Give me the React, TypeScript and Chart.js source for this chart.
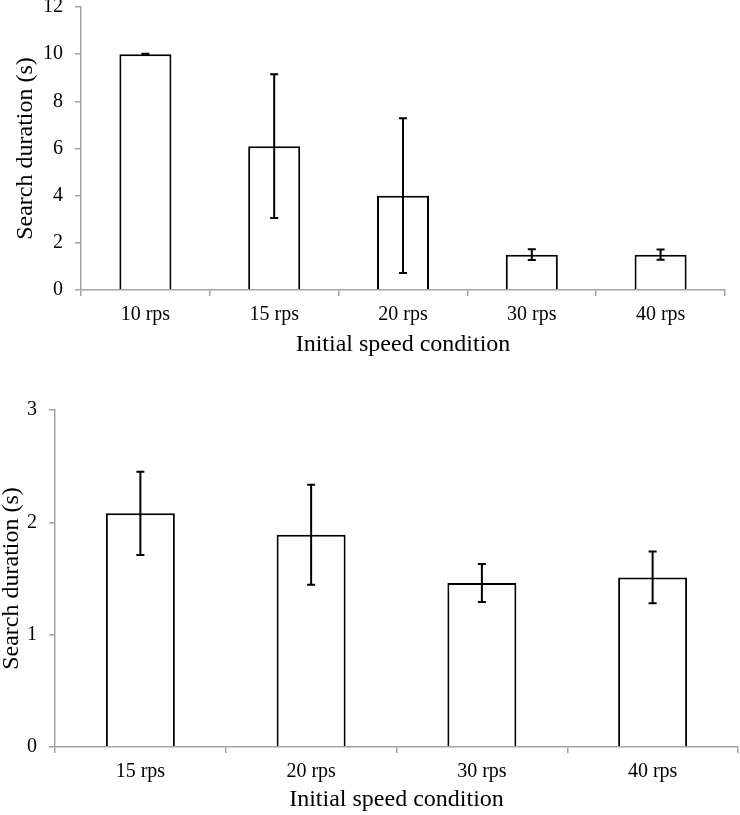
import React, { useEffect, useRef } from "react";
import { Chart, registerables } from "chart.js";

Chart.register(...registerables);

const topCategories = ["10 rps", "15 rps", "20 rps", "30 rps", "40 rps"];
const topMeans = [10.0, 6.1, 4.0, 1.5, 1.5];
const topErrors = [0.02, 3.05, 3.28, 0.23, 0.22];
const topTicks = { min: 0, max: 12, step: 2 };

const bottomCategories = ["15 rps", "20 rps", "30 rps", "40 rps"];
const bottomMeans = [2.08, 1.89, 1.46, 1.51];
const bottomErrors = [0.37, 0.445, 0.17, 0.23];
const bottomTicks = { min: 0, max: 3, step: 1 };

const xTitle = "Initial speed condition";
const yTitle = "Search duration (s)";

const FONT = "'Liberation Serif', 'Times New Roman', serif";
const AXIS_GREY = "#a3a3a3";

const errorBarPlugin = {
  id: "errorBars",
  afterDatasetsDraw(chart: any) {
    const errs: number[] = chart.options.plugins.errorBars.errors;
    const means: number[] = chart.data.datasets[0].data;
    const meta = chart.getDatasetMeta(0);
    const ys = chart.scales.y;
    const ctx = chart.ctx;
    ctx.save();
    ctx.strokeStyle = "#000";
    ctx.lineWidth = 2;
    meta.data.forEach((bar: any, i: number) => {
      const x = bar.x;
      const yTop = ys.getPixelForValue(means[i] + errs[i]);
      const yBot = ys.getPixelForValue(means[i] - errs[i]);
      const cap = 4;
      ctx.beginPath();
      ctx.moveTo(x, yTop);
      ctx.lineTo(x, yBot);
      ctx.moveTo(x - cap, yTop);
      ctx.lineTo(x + cap, yTop);
      ctx.moveTo(x - cap, yBot);
      ctx.lineTo(x + cap, yBot);
      ctx.stroke();
    });
    ctx.restore();
  },
};

interface Cfg {
  labels: string[];
  means: number[];
  errors: number[];
  ticks: { min: number; max: number; step: number };
  padding: { top: number; right: number; bottom: number; left: number };
  yWidth: number;
  xHeight: number;
  yTitlePad: number;
}

function BarPanel({ cfg, top, height }: { cfg: Cfg; top: number; height: number }) {
  const ref = useRef<HTMLCanvasElement | null>(null);
  useEffect(() => {
    if (!ref.current) return;
    const chart = new Chart(ref.current, {
      type: "bar",
      data: {
        labels: cfg.labels,
        datasets: [
          {
            data: cfg.means,
            backgroundColor: "#ffffff",
            borderColor: "#000000",
            borderWidth: 2,
            barPercentage: 0.404,
            categoryPercentage: 1,
          },
        ],
      },
      options: {
        animation: false,
        responsive: false,
        maintainAspectRatio: false,
        devicePixelRatio: 1,
        layout: { padding: cfg.padding },
        plugins: {
          legend: { display: false },
          tooltip: { enabled: false },
          errorBars: { errors: cfg.errors },
        } as any,
        scales: {
          x: {
            type: "category",
            offset: true,
            grid: {
              display: true,
              offset: true,
              drawOnChartArea: false,
              drawTicks: true,
              tickLength: 6,
              color: AXIS_GREY,
              lineWidth: 1.5,
            },
            border: { display: true, color: AXIS_GREY, width: 1.5 },
            ticks: {
              color: "#000",
              font: { family: FONT, size: 20 },
              padding: 7,
              maxRotation: 0,
            },
            title: {
              display: true,
              text: xTitle,
              color: "#000",
              font: { family: FONT, size: 24, lineHeight: 1 },
              padding: { top: 0, bottom: 0 },
            },
            afterFit: (s: any) => {
              s.height = cfg.xHeight;
              s.paddingLeft = 0;
              s.paddingRight = 0;
            },
          },
          y: {
            min: cfg.ticks.min,
            max: cfg.ticks.max,
            grid: {
              display: true,
              drawOnChartArea: false,
              drawTicks: true,
              tickLength: 6,
              color: AXIS_GREY,
              lineWidth: 1.5,
            },
            border: { display: true, color: AXIS_GREY, width: 1.5 },
            ticks: {
              stepSize: cfg.ticks.step,
              color: "#000",
              font: { family: FONT, size: 20 },
              padding: 12,
            },
            title: {
              display: true,
              text: yTitle,
              color: "#000",
              font: { family: FONT, size: 24, lineHeight: 1 },
              padding: { top: cfg.yTitlePad, bottom: 0 },
            },
            afterFit: (s: any) => {
              s.width = cfg.yWidth;
              s.paddingTop = 0;
              s.paddingBottom = 0;
            },
          },
        },
      },
      plugins: [errorBarPlugin],
    });
    return () => chart.destroy();
  }, []);
  return (
    <div style={{ position: "absolute", left: 0, top, width: 740, height }}>
      <canvas ref={ref} width={740} height={height} style={{ display: "block" }} />
    </div>
  );
}

const topCfg: Cfg = {
  labels: topCategories,
  means: topMeans,
  errors: topErrors,
  ticks: topTicks,
  padding: { top: 7, right: 15, bottom: 0, left: 0 },
  yWidth: 81,
  xHeight: 67,
  yTitlePad: 14,
};

const bottomCfg: Cfg = {
  labels: bottomCategories,
  means: bottomMeans,
  errors: bottomErrors,
  ticks: bottomTicks,
  padding: { top: 53, right: 2, bottom: 3, left: 0 },
  yWidth: 55,
  xHeight: 65,
  yTitlePad: 0,
};

export default function App() {
  return (
    <div style={{ position: "absolute", left: 0, top: 0, width: 740, height: 815, background: "#fff", overflow: "hidden" }}>
      <BarPanel cfg={topCfg} top={0} height={357} />
      <BarPanel cfg={bottomCfg} top={357} height={458} />
    </div>
  );
}
